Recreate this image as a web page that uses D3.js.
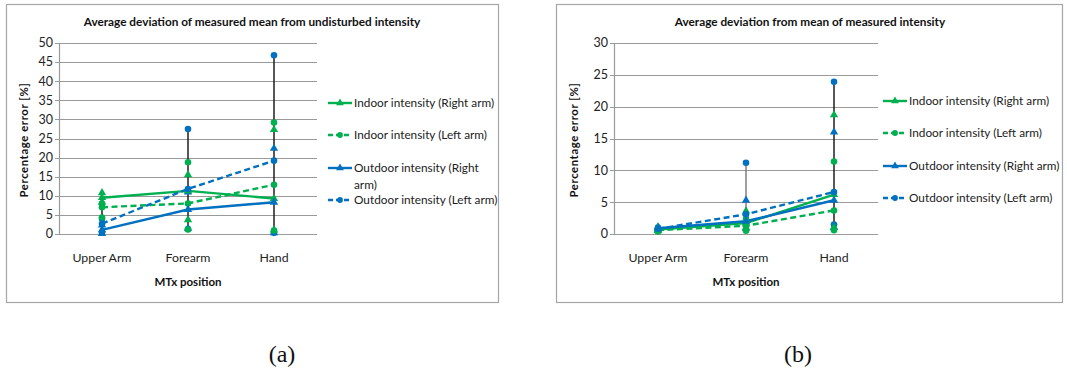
<!DOCTYPE html>
<html>
<head>
<meta charset="utf-8">
<script src="https://cdn.jsdelivr.net/npm/d3@7"></script>
<style>
  body { margin: 0; background: #fff; }
  svg { display: block; }
</style>
</head>
<body>
<div id="chart"></div>
<script>
// categories and series (same for both panels)
const categories = ["Upper Arm", "Forearm", "Hand"];
const seriesNames = [
  "Indoor intensity (Right arm)",
  "Indoor intensity (Left arm)",
  "Outdoor intensity (Right arm)",
  "Outdoor intensity (Left arm)"
];

// (a) deviation of measured mean from undisturbed intensity
const meanA = [[9.5, 11.3, 9.3], [7.0, 8.0, 12.9], [1.1, 6.4, 8.3], [2.7, 11.8, 19.2]];
const maxA = [[10.8, 15.5, 27.3], [8.0, 18.8, 29.2], [2.3, 11.0, 22.4], [4.0, 27.5, 46.8]];
const minA = [[8.3, 3.7, 1.0], [4.3, 1.2, 0.9], [0.1, 1.5, 0.3], [0.4, 1.3, 0.3]];
const ticksA = [0, 5, 10, 15, 20, 25, 30, 35, 40, 45, 50];

// (b) deviation from mean of measured intensity
const meanB = [[0.7, 1.7, 6.2], [0.6, 1.3, 3.7], [0.9, 2.0, 5.3], [0.8, 3.1, 6.6]];
const maxB = [[1.0, 3.6, 18.7], [0.8, 2.4, 11.4], [1.1, 5.3, 16.0], [1.0, 11.2, 23.9]];
const minB = [[0.5, 1.0, 1.0], [0.4, 0.5, 0.6], [0.6, 0.9, 1.0], [0.5, 1.2, 1.5]];
const ticksB = [0, 5, 10, 15, 20, 25, 30];

const colors = ["#00B050", "#00B050", "#0070C0", "#0070C0"];
const dashed = [false, true, false, true];
const markers = [d3.symbolTriangle, d3.symbolCircle, d3.symbolTriangle, d3.symbolCircle];

const svg = d3.select("#chart").append("svg")
  .attr("width", 1067).attr("height", 373);

const font = "Lato, 'Open Sans', sans-serif";

function drawPanel(cfg) {
  const g = svg.append("g");
  // frame
  g.append("rect")
    .attr("x", cfg.box[0] + 0.5).attr("y", cfg.box[1] + 0.5)
    .attr("width", cfg.box[2]).attr("height", cfg.box[3])
    .attr("fill", "#fff").attr("stroke", "#a6a6a6").attr("stroke-width", 1.2);

  const x = d3.scaleBand().domain(categories).range([cfg.left, cfg.right]);
  const y = d3.scaleLinear().domain([0, cfg.ticks[cfg.ticks.length - 1]]).range([234, 43]);

  // gridlines
  g.append("g").selectAll("line").data(cfg.ticks).join("line")
    .attr("x1", cfg.left - 4).attr("x2", cfg.right)
    .attr("y1", d => Math.round(y(d)) + 0.5).attr("y2", d => Math.round(y(d)) + 0.5)
    .attr("stroke", "#9a9a9a").attr("stroke-width", 1.2);
  g.append("line")
    .attr("x1", cfg.left + 0.5).attr("x2", cfg.left + 0.5)
    .attr("y1", y(cfg.ticks[cfg.ticks.length - 1])).attr("y2", y(0))
    .attr("stroke", "#9a9a9a").attr("stroke-width", 1.2);

  // y tick labels
  g.append("g").selectAll("text").data(cfg.ticks).join("text")
    .attr("x", cfg.left - 6).attr("y", d => y(d)).attr("dy", "0.35em")
    .attr("text-anchor", "end").attr("font-family", font).attr("font-size", 12.5)
    .attr("fill", "#222").text(d => d);

  // x tick labels
  g.append("g").selectAll("text").data(categories).join("text")
    .attr("x", d => x(d) + x.bandwidth() / 2).attr("y", 262)
    .attr("text-anchor", "middle").attr("font-family", font).attr("font-size", 12.3)
    .attr("fill", "#222").text(d => d);

  // titles
  g.append("text")
    .attr("x", cfg.titleX).attr("y", 26).attr("text-anchor", "middle")
    .attr("font-family", font).attr("font-size", 11.8).attr("font-weight", "bold")
    .attr("fill", "#111").text(cfg.title);
  g.append("text")
    .attr("x", x("Forearm") + x.bandwidth() / 2).attr("y", 286).attr("text-anchor", "middle")
    .attr("font-family", font).attr("font-size", 11.5).attr("font-weight", "bold")
    .attr("fill", "#111").text("MTx position");
  g.append("text")
    .attr("transform", `translate(${cfg.ylabX},140) rotate(-90)`)
    .attr("text-anchor", "middle").attr("font-family", font).attr("font-size", 11.3)
    .attr("font-weight", "bold").attr("letter-spacing", 0.6)
    .attr("fill", "#111").text("Percentage error [%]");

  const cx = c => x(categories[c]) + x.bandwidth() / 2;

  // series lines
  const line = d3.line().x((d, i) => cx(i)).y(d => y(d));
  cfg.mean.forEach((s, k) => {
    g.append("path").attr("d", line(s)).attr("fill", "none")
      .attr("stroke", colors[k]).attr("stroke-width", 2.4)
      .attr("stroke-dasharray", dashed[k] ? "6,3.5" : null);
  });

  // high-low lines
  categories.forEach((c, i) => {
    const hi = d3.max(cfg.max, s => s[i]);
    const lo = d3.min(cfg.min, s => s[i]);
    g.append("line").attr("x1", cx(i)).attr("x2", cx(i))
      .attr("y1", y(hi)).attr("y2", y(lo))
      .attr("stroke", cfg.hlColor[i]).attr("stroke-width", 1.4);
  });

  // markers: min/max then means
  const drawMarks = (arr, k) => {
    g.append("g").selectAll("path").data(arr).join("path")
      .attr("transform", (d, i) => `translate(${cx(i)},${y(d)})`)
      .attr("d", d3.symbol().type(markers[k]).size(markers[k] === d3.symbolTriangle ? 30 : 34))
      .attr("fill", colors[k]);
  };
  [3, 2, 1, 0].forEach(k => { drawMarks(cfg.max[k], k); drawMarks(cfg.min[k], k); });
  cfg.mean.forEach((s, k) => drawMarks(s, k));

  // legend
  const lg = g.append("g").attr("transform", `translate(${cfg.legX},0)`);
  seriesNames.forEach((name, k) => {
    const ly = cfg.legY[k];
    lg.append("line").attr("x1", 0).attr("x2", 24).attr("y1", ly).attr("y2", ly)
      .attr("stroke", colors[k]).attr("stroke-width", 2.4)
      .attr("stroke-dasharray", dashed[k] ? "5,3" : null);
    lg.append("path").attr("transform", `translate(12,${ly})`)
      .attr("d", d3.symbol().type(markers[k]).size(26)).attr("fill", colors[k]);
    const t = lg.append("text").attr("x", 26).attr("y", ly)
      .attr("font-family", font).attr("font-size", 11.8).attr("fill", "#222");
    const lines = cfg.legWrap[k] || [name];
    lines.forEach((ln, j) => {
      t.append("tspan").attr("x", 26).attr("dy", j === 0 ? "0.35em" : "1.4em").text(ln);
    });
  });
}

drawPanel({
  box: [6, 4, 492, 298],
  left: 59, right: 317,
  ticks: ticksA,
  mean: meanA, max: maxA, min: minA,
  title: "Average deviation of measured mean from undisturbed intensity",
  titleX: 252, ylabX: 28,
  hlColor: ["#111", "#111", "#111"],
  legX: 328, legY: [103, 135, 168, 200],
  legWrap: [null, null, ["Outdoor intensity (Right", "arm)"], null]
});

drawPanel({
  box: [556, 4, 506, 298],
  left: 614, right: 878,
  ticks: ticksB,
  mean: meanB, max: maxB, min: minB,
  title: "Average deviation from mean of  measured intensity",
  titleX: 810, ylabX: 578,
  hlColor: ["#111", "#777", "#111"],
  legX: 883, legY: [101, 133, 166, 198],
  legWrap: [null, null, null, null]
});

// captions
svg.selectAll("text.cap").data(["(a)", "(b)"]).join("text")
  .attr("class", "cap")
  .attr("x", (d, i) => i === 0 ? 282 : 798).attr("y", 362)
  .attr("text-anchor", "middle")
  .attr("font-family", "'Liberation Serif', 'Times New Roman', serif")
  .attr("font-size", 24).attr("fill", "#111").text(d => d);
</script>
</body>
</html>
